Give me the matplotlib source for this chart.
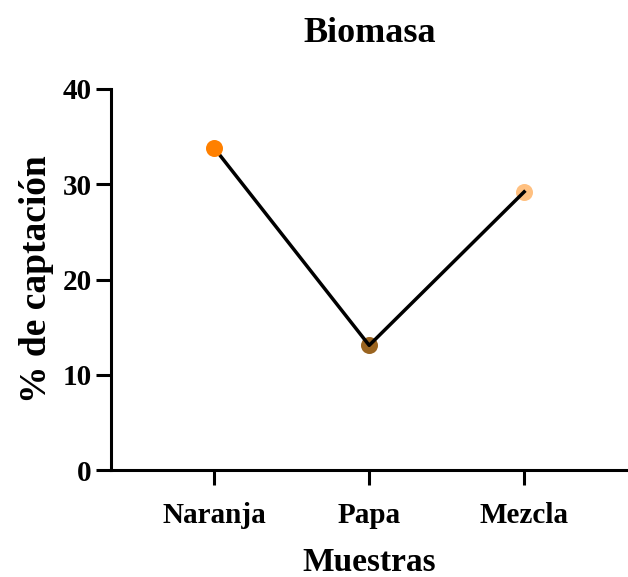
import matplotlib.pyplot as plt

# Datos
muestras = ['Naranja', 'Papa', 'Mezcla']
captacion = [33.8, 13.1, 29.2]
colores = ['#FF8000', '#9A6420', '#FFC080']

plt.rcParams['font.family'] = 'Liberation Serif'
plt.rcParams['font.weight'] = 'bold'

fig = plt.figure(figsize=(6.28, 5.77), dpi=100)
ax = fig.add_axes([0.177, 0.185, 0.823, 0.661])

x = range(len(muestras))
ax.plot(x, captacion, color='black', linewidth=2.5, zorder=3)
for i, (v, c) in enumerate(zip(captacion, colores)):
    ax.scatter(i, v, s=150, color=c, zorder=4 if i == 0 else 2, linewidths=0)

ax.set_xlim(-0.665, 2.67)
ax.set_ylim(0, 40)
ax.set_yticks([0, 10, 20, 30, 40])
ax.set_xticks(list(x))
ax.set_xticklabels(muestras)

for s in ['top', 'right']:
    ax.spines[s].set_visible(False)
for s in ['left', 'bottom']:
    ax.spines[s].set_linewidth(2.2)

ax.tick_params(axis='both', width=2.2, length=11, labelsize=21, pad=3)
ax.tick_params(axis='x', pad=12)

ax.set_xlabel('Muestras', fontsize=24, fontweight='bold')
ax.xaxis.set_label_coords(0.5, -0.2)
ax.set_ylabel('% de captación', fontsize=27, fontweight='bold')
ax.yaxis.set_label_coords(-0.11, 0.5)
ax.set_title('Biomasa', fontsize=26, fontweight='bold', pad=34)

fig.savefig('out.png', dpi=100)
